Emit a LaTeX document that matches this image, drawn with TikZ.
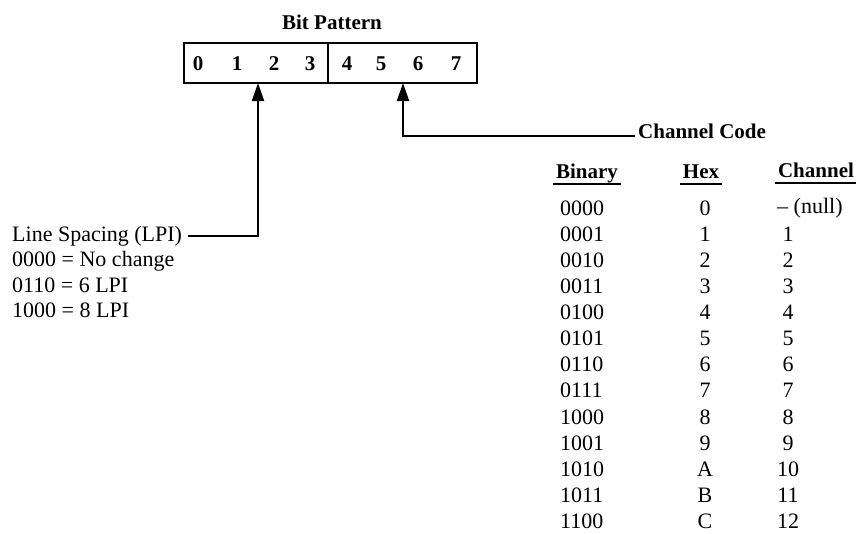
\documentclass[tikz,border=0pt]{standalone}
\usepackage{fontspec}
\setmainfont{Liberation Serif}
\usetikzlibrary{positioning,arrows.meta}

\begin{document}
\begin{tikzpicture}[x=1pt, y=-1pt, font=\fontsize{22}{26}\selectfont,
  halfbox/.style={draw, line width=2pt, minimum height=40pt, inner sep=0pt},
  bitnum/.style={font=\fontsize{21}{25}\selectfont\bfseries},
  hdr/.style={font=\fontsize{21}{25}\selectfont\bfseries, inner sep=3pt,
    text height=0.7em, text depth=0.22em},
  leader/.style={line width=2pt, -{Triangle[length=18pt,width=12pt]}},
  rowtxt/.style={inner sep=0pt}]
  \useasboundingbox (0,0) rectangle (856,533);

  % Bit pattern box, two halves
  \node[bitnum] (title) at (332,22) {Bit Pattern};
  \node[halfbox, minimum width=144pt] (lo) at (256,63) {};
  \node[halfbox, minimum width=149pt] (hi) at (402.5,63) {};
  \foreach \d/\x in {0/198, 1/237, 2/274, 3/310, 4/347, 5/381, 6/418, 7/456}{
    \node[bitnum] (bit\d) at (\x,64) {\d};
  }

  % Arrow tips on the box
  \coordinate (lspTip) at (258,83);
  \coordinate (chnTip) at (403,83);

  % Line spacing field
  \node[anchor=west, inner sep=6pt] (lsp) at (6,236) {Line Spacing (LPI)};
  \node[anchor=west, rowtxt] (lspA) at (12,261) {0000 = No change};
  \node[anchor=west, rowtxt] (lspB) at (12,285.5) {0110 = 6 LPI};
  \node[anchor=west, rowtxt] (lspC) at (12,310) {1000 = 8 LPI};
  \draw[leader] (lsp.east) -| (lspTip);

  % Channel code field
  \node[hdr, anchor=west] (chc) at (635,136) {Channel Code};
  \draw[leader] (chc.west) -| (chnTip);

  % Table headers with underlines
  \node[hdr] (hbin) at (587,176) {Binary};
  \node[hdr] (hhex) at (701,176) {Hex};
  \node[hdr] (hchn) at (816,175) {Channel};
  \foreach \h in {hbin, hhex, hchn}{
    \draw[line width=1.4pt] (\h.south west) -- (\h.south east);
  }

  % Table rows
  \node[anchor=west, rowtxt] (bin0) at (560,208) {0000};
  \node[rowtxt] (hex0) at (705,208) {0};
  \node[anchor=west, rowtxt] (chn0) at (777,208) {-- (null)};
  \foreach \b/\h/\c [count=\r from 1] in {0001/1/1, 0010/2/2, 0011/3/3,
      0100/4/4, 0101/5/5, 0110/6/6, 0111/7/7, 1000/8/8, 1001/9/9,
      1010/A/10, 1011/B/11, 1100/C/12}{
    \node[anchor=west, rowtxt] (bin\r) at (560,{208+26.1*\r}) {\b};
    \node[rowtxt] (hex\r) at (705,{208+26.1*\r}) {\h};
    \node[rowtxt] (chn\r) at (788,{208+26.1*\r}) {\c};
  }
\end{tikzpicture}
\end{document}
